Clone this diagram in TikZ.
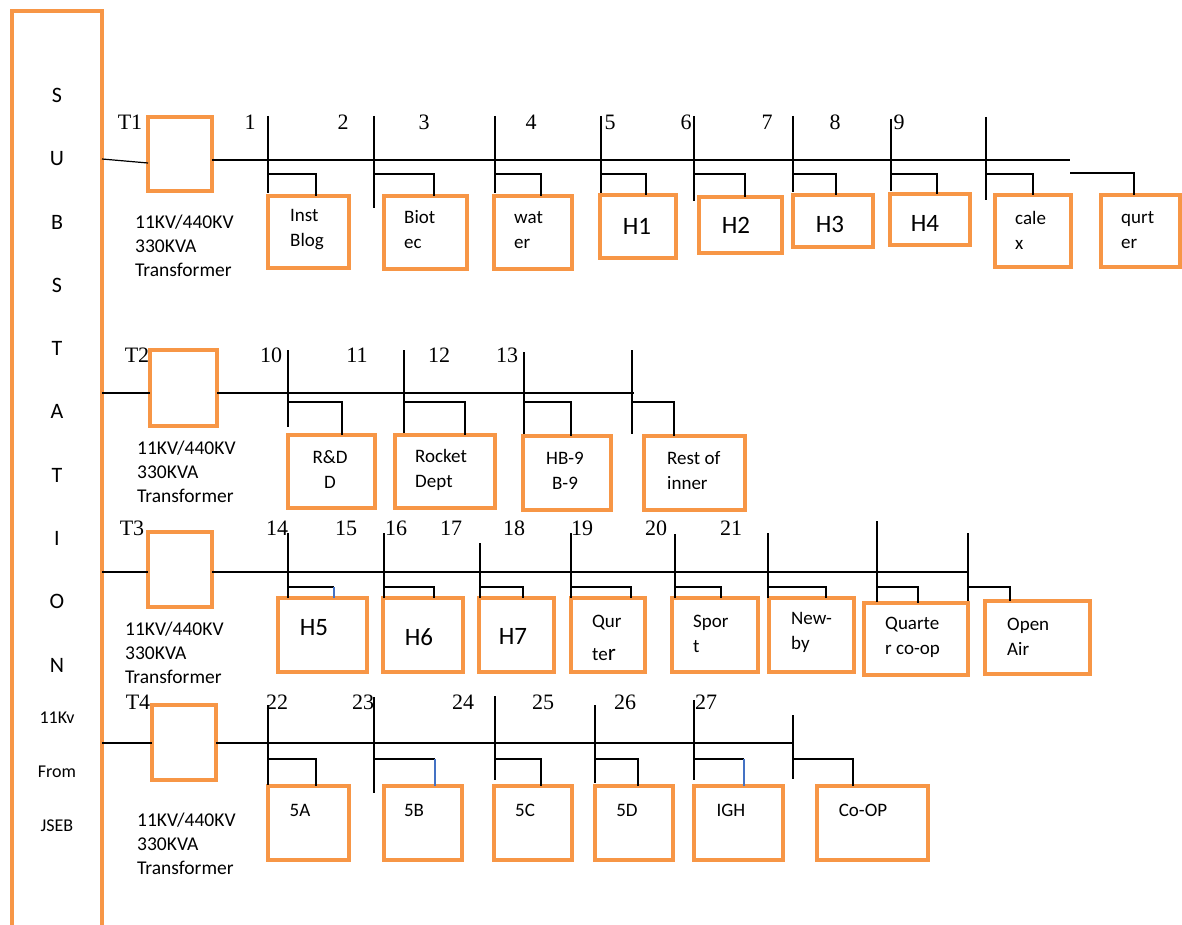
\documentclass[tikz,border=0pt]{standalone}
\usepackage{fontspec}
\setmainfont{Carlito}
\newfontfamily\serifnum{Liberation Serif}
\definecolor{orng}{RGB}{247,150,70}
\definecolor{blu}{RGB}{68,114,196}
\newcommand\bx[5]{\node[obox, minimum width={#4-#2}, minimum height={#5-#3}] (#1) at (#2,#3) {};}
\begin{document}
\begin{tikzpicture}[x=1pt,y=-1pt,
 obox/.style={draw=orng, line width=4pt, inner sep=0pt, outer sep=0pt, anchor=north west},
 wire/.style={draw=black, line width=1.2pt},
 num/.style={font=\serifnum\fontsize{22}{24}\selectfont, inner sep=0pt},
 lbl/.style={font=\fontsize{19}{25}\selectfont, inner sep=0pt, anchor=west, align=left},
 trf/.style={font=\fontsize{19.5}{24}\selectfont, inner sep=0pt, anchor=west, align=left},
 big/.style={font=\fontsize{25}{28}\selectfont, inner sep=0pt},
 sub/.style={font=\fontsize{22}{24}\selectfont, inner sep=0pt},
 subs/.style={font=\fontsize{18}{20}\selectfont, inner sep=0pt}
]
\useasboundingbox (0,0) rectangle (1182,925);
% substation column
\node[obox, minimum width=90, minimum height=930] (sub) at (12,11) {};
\foreach \l/\y [count=\i] in {S/95,U/159,B/222,S/285,T/348,A/411,T/475,I/538,O/601,N/665}
  \node[sub] (s\i) at (57,\y) {\l};
\node[subs] (kv) at (57,718) {11Kv};
\node[subs] (from) at (57,772) {From};
\node[subs] (jseb) at (57,826) {JSEB};

% ---------------- Row 1 ----------------
\bx{t1}{148}{117}{212}{191}
\node[num] (lt1) at (130,122) {T1};
\node[trf] (tx1) at (135,246) {11KV/440KV\\330KVA\\Transformer};
\draw[wire] (sub.east |- 0,159) -- (t1.west |- 0,163);
\draw[wire] (t1.east |- 0,160) -- (1070,160) coordinate (bb1e);
\bx{b1}{268}{196}{349}{268}
\bx{b2}{384}{196}{467}{269}
\bx{b3}{494}{196}{572}{269}
\bx{b4}{600}{195}{676}{258}
\bx{b5}{699}{197}{782}{253}
\bx{b6}{793}{195}{873}{247}
\bx{b7}{890}{194}{970}{245}
\bx{b8}{995}{195}{1071}{267}
\bx{b9}{1101}{195}{1180}{267}
\node[lbl] (tb1) at (290,230) {Inst\\Blog};
\node[lbl] (tb2) at (404,230) {Biot\\ec};
\node[lbl] (tb3) at (514,230) {wat\\er};
\node[big] (tb4) at (637,226) {H1};
\node[big] (tb5) at (736,225) {H2};
\node[big] (tb6) at (830,224) {H3};
\node[big] (tb7) at (925,223) {H4};
\node[lbl] (tb8) at (1015,230) {cale\\x};
\node[lbl] (tb9) at (1121,230) {qurt\\er};
\foreach \x/\t/\b/\k/\n in {268/116/193/316/b1, 374/116/208/434/b2, 495/116/193/541/b3, 601/116/193/646/b4, 694/116/201/745/b5, 793/116/192/836/b6, 891/119/191/937/b7, 986/117/200/1033/b8}{
  \draw[wire] (\x,\t) -- (\x,\b);
  \draw[wire] (\x,174) -| (\n.north -| \k,0);
}
\draw[wire] (bb1e |- 0,173) -| (b9.north -| 1134,0);
\foreach \t/\x [count=\i] in {1/250,2/343,3/424,4/531,5/610,6/686,7/767,8/835,9/899}
  \node[num] (n\i) at (\x,122) {\t};

% ---------------- Row 2 ----------------
\bx{t2}{150}{350}{217}{426}
\node[num] (lt2) at (137,355) {T2};
\node[trf] (tx2) at (137,472) {11KV/440KV\\330KVA\\Transformer};
\draw[wire] (sub.east |- 0,393) -- (t2.west |- 0,393);
\draw[wire] (t2.east |- 0,393) -- (634,393);
\bx{c1}{288}{435}{375}{508}
\bx{c2}{395}{435}{495}{508}
\bx{c3}{523}{436}{611}{510}
\bx{c4}{644}{436}{745}{510}
\node[lbl, align=center, anchor=center] (tc1) at (330,470) {R\&D\\D};
\node[lbl] (tc2) at (415,470) {Rocket\\Dept};
\node[lbl, align=center, anchor=center] (tc3) at (565,471) {HB-9\\B-9};
\node[lbl] (tc4) at (667,471) {Rest of\\inner};
\foreach \x/\t/\b/\k/\n in {288/350/427/342/c1, 404/350/433/465/c2, 524/352/434/571/c3, 632/350/434/674/c4}{
  \draw[wire] (\x,\t) -- (\x,\b);
  \draw[wire] (\x,402) -| (\n.north -| \k,0);
}
\foreach \t/\x in {10/271,11/357,12/439,13/507}
  \node[num] (n\t) at (\x,355) {\t};

% ---------------- Row 3 ----------------
\bx{t3}{148}{532}{212}{607}
\node[num] (lt3) at (132,528) {T3};
\node[trf] (tx3) at (125,653) {11KV/440KV\\330KVA\\Transformer};
\draw[wire] (sub.east |- 0,572) -- (t3.west |- 0,572);
\draw[wire] (t3.east |- 0,572) -- (968,572);
\bx{d1}{278}{598}{367}{672}
\bx{d2}{383}{598}{463}{672}
\bx{d3}{479}{598}{554}{672}
\bx{d4}{571}{598}{645}{672}
\bx{d5}{672}{598}{758}{672}
\bx{d6}{769}{598}{854}{672}
\bx{d7}{864}{603}{968}{675}
\bx{d8}{985}{601}{1090}{674}
\node[big] (td1) at (314,628) {H5};
\node[big] (td2) at (419,637) {H6};
\node[big] (td3) at (513,636) {H7};
\node[lbl] (td4) at (592,638) {Qur\\[8pt]te{\fontsize{23}{25}\selectfont r}};
\node[lbl] (td5) at (693,634) {Spor\\t};
\node[lbl] (td6) at (791,632) {New-\\by};
\node[lbl] (td7) at (885,637) {Quarte\\r co-op};
\node[lbl] (td8) at (1007,637) {Open\\Air};
\draw[wire] (288,533) -- (288,598);
\draw[wire] (288,587) -- (334,587);
\draw[wire, draw=blu] (334,587) -- (d1.north -| 334,0);
\foreach \x/\t/\b/\k/\n in {384/533/598/434/d2, 480/543/598/523/d3, 571/533/598/631/d4, 675/534/598/721/d5, 768/533/598/826/d6, 877/521/602/918/d7, 968/533/601/1010/d8}{
  \draw[wire] (\x,\t) -- (\x,\b);
  \draw[wire] (\x,587) -| (\n.north -| \k,0);
}
\foreach \t/\x in {14/277,15/346,16/396,17/451,18/514,19/582,20/656,21/731}
  \node[num] (n\t) at (\x,528) {\t};

% ---------------- Row 4 ----------------
\bx{t4}{152}{705}{216}{780}
\node[num] (lt4) at (138,702) {T4};
\node[trf] (tx4) at (137,844) {11KV/440KV\\330KVA\\Transformer};
\draw[wire] (sub.east |- 0,743) -- (t4.west |- 0,743);
\draw[wire] (t4.east |- 0,743) -- (793,743);
\bx{e1}{268}{786}{349}{860}
\bx{e2}{384}{786}{462}{860}
\bx{e3}{494}{786}{572}{860}
\bx{e4}{595}{786}{673}{860}
\bx{e5}{694}{786}{783}{860}
\bx{e6}{817}{786}{928}{860}
\node[lbl, anchor=center] (te1) at (300,810) {5A};
\node[lbl, anchor=center] (te2) at (414,810) {5B};
\node[lbl, anchor=center] (te3) at (525,810) {5C};
\node[lbl, anchor=center] (te4) at (627,810) {5D};
\node[lbl, anchor=center] (te5) at (731,810) {IGH};
\node[lbl, anchor=center] (te6) at (863,810) {Co-OP};
\foreach \x/\t/\b/\k/\n in {268/705/785/316/e1, 495/696/780/541/e3, 595/705/783/638/e4, 793/715/779/853/e6}{
  \draw[wire] (\x,\t) -- (\x,\b);
  \draw[wire] (\x,759) -| (\n.north -| \k,0);
}
\foreach \x/\t/\b/\k/\n in {374/697/793/435/e2, 694/700/780/744/e5}{
  \draw[wire] (\x,\t) -- (\x,\b);
  \draw[wire] (\x,759) -- (\k,759);
  \draw[wire, draw=blu] (\k,759) -- (\n.north -| \k,0);
}
\foreach \t/\x in {22/277,23/363,24/463,25/543,26/625,27/706}
  \node[num] (n\t) at (\x,702) {\t};
\end{tikzpicture}
\end{document}
